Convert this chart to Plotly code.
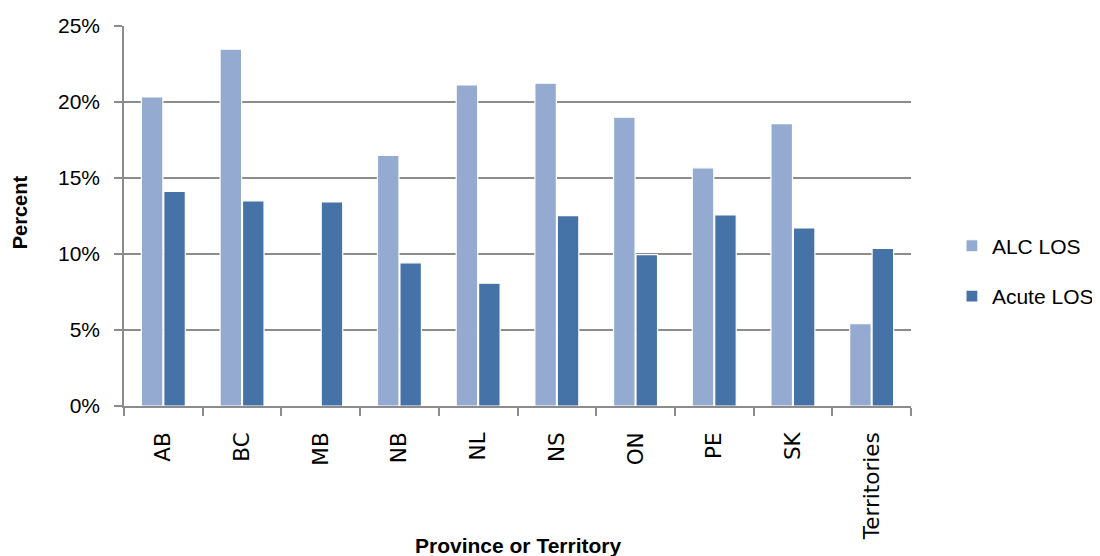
import plotly.graph_objects as go

categories = ["AB", "BC", "MB", "NB", "NL", "NS", "ON", "PE", "SK", "Territories"]
alc_los = [0.2033, 0.2347, None, 0.1648, 0.2112, 0.2124, 0.1900, 0.1567, 0.1858, 0.0541]
acute_los = [0.1412, 0.1350, 0.1342, 0.0942, 0.0808, 0.1252, 0.0996, 0.1257, 0.1171, 0.1037]
y_ticks = [0, 0.05, 0.10, 0.15, 0.20, 0.25]
y_tick_text = ["0%", "5%", "10%", "15%", "20%", "25%"]

ALC_COLOR = "#95AAD0"
ACUTE_COLOR = "#4572A7"
GRID = "#8C8C8C"
FONT = "Liberation Sans"

fig = go.Figure()
fig.add_trace(go.Bar(
    x=categories, y=alc_los, name="ALC LOS", legendgroup="a",
    marker=dict(color=ALC_COLOR, line=dict(color="white", width=1.2)),
))
fig.add_trace(go.Bar(
    x=categories, y=acute_los, name="Acute LOS", legendgroup="b",
    marker=dict(color=ACUTE_COLOR, line=dict(color="white", width=1.2)),
))

fig.update_layout(
    width=1092, height=548,
    margin=dict(l=116, r=189, t=18, b=150, autoexpand=False),
    paper_bgcolor="white", plot_bgcolor="white",
    barmode="group", bargap=0.43, bargroupgap=0.04,
    font=dict(family=FONT, size=21, color="black"),
    showlegend=True,
    legend=dict(
        x=1.052, y=0.355, xanchor="left", yanchor="middle",
        font=dict(family=FONT, size=21, color="black"),
        tracegroupgap=20, traceorder="grouped",
        bgcolor="rgba(0,0,0,0)",
    ),
    xaxis=dict(
        type="category", tickangle=-90, tickson="boundaries",
        ticks="outside", ticklen=8, tickcolor=GRID, tickwidth=1.5,
        showline=True, linecolor=GRID, linewidth=1.5,
        showgrid=False, ticklabelstandoff=16,
        tickfont=dict(family="DejaVu Sans", size=21.5, color="black"),
    ),
    yaxis=dict(
        range=[0, 0.25], tickvals=y_ticks, ticktext=y_tick_text,
        ticks="outside", ticklen=8, tickcolor=GRID, tickwidth=1.5,
        showline=True, linecolor=GRID, linewidth=1.5,
        showgrid=True, gridcolor=GRID, gridwidth=1.5,
        zeroline=False, ticklabelstandoff=10,
        tickfont=dict(family=FONT, size=21, color="black"),
    ),
    annotations=[
        dict(text="<b>Percent</b>", textangle=-90, xref="paper", yref="paper",
             x=-0.132, y=0.51, xanchor="center", yanchor="middle", showarrow=False,
             font=dict(family=FONT, size=20, color="black")),
        dict(text="<b>Province or Territory</b>", xref="paper", yref="paper",
             x=0.5, y=-0.366, xanchor="center", yanchor="middle", showarrow=False,
             font=dict(family=FONT, size=21, color="black")),
    ],
)

fig.write_html("out.html")
